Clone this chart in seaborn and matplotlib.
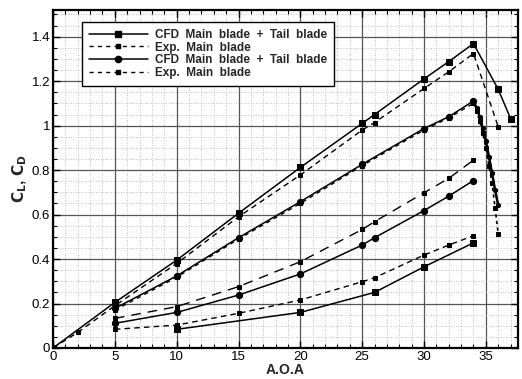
import matplotlib
matplotlib.use("Agg")
import matplotlib.pyplot as plt
from matplotlib.lines import Line2D
from matplotlib.ticker import MultipleLocator
import seaborn as sns
import pandas as pd

# Lift, configuration 1 (CFD, squares)
cl1_cfd_aoa = [0, 5, 10, 15, 20, 25, 26, 30, 32, 34, 36, 37]
cl1_cfd = [0.0, 0.205, 0.395, 0.606, 0.812, 1.01, 1.05, 1.21, 1.288, 1.369, 1.163, 1.032]
cl1_exp_aoa = [0, 2, 5, 10, 15, 20, 25, 26, 30, 32, 34, 36]
cl1_exp = [0.0, 0.07, 0.19, 0.38, 0.59, 0.778, 0.98, 1.014, 1.167, 1.242, 1.324, 0.995]

# Lift, configuration 2 (CFD, circles); post-stall points are finely spaced
cl2_cfd_aoa = [5, 10, 15, 20, 25, 30, 32, 34, 34.25, 34.5, 34.75, 35, 35.25, 35.5, 35.75, 36]
cl2_cfd = [0.178, 0.324, 0.496, 0.658, 0.826, 0.987, 1.04, 1.111, 1.08, 1.04, 0.99, 0.93,
           0.86, 0.785, 0.71, 0.641]
cl2_exp_aoa = [5, 10, 15, 20, 25, 30, 32, 34, 34.25, 34.5, 34.75, 35, 35.25, 35.5, 35.75, 36]
cl2_exp = [0.17, 0.318, 0.49, 0.65, 0.82, 0.98, 1.035, 1.10, 1.065, 1.02, 0.965, 0.90,
           0.82, 0.74, 0.63, 0.511]
stall_index = 7  # index of the 34 deg point where the fine sweep starts

# Drag, configuration 2 (upper drag curves)
cd2_cfd_aoa = [5, 10, 15, 20, 25, 26, 30, 32, 34]
cd2_cfd = [0.111, 0.160, 0.238, 0.333, 0.463, 0.496, 0.618, 0.683, 0.753]
cd2_exp_aoa = [5, 10, 15, 20, 25, 26, 30, 32, 34]
cd2_exp = [0.133, 0.186, 0.276, 0.388, 0.533, 0.568, 0.698, 0.763, 0.845]

# Drag, configuration 1 (lower drag curves)
cd1_cfd_aoa = [10, 20, 26, 30, 34]
cd1_cfd = [0.084, 0.160, 0.250, 0.365, 0.473]
cd1_exp_aoa = [5, 10, 15, 20, 25, 26, 30, 32, 34]
cd1_exp = [0.084, 0.103, 0.156, 0.216, 0.298, 0.316, 0.418, 0.463, 0.505]

legend_labels = ["CFD  Main  blade  +  Tail  blade", "Exp.  Main  blade",
                 "CFD  Main  blade  +  Tail  blade", "Exp.  Main  blade"]

sns.set_theme(style="ticks")
plt.rcParams["font.family"] = ["Liberation Sans", "DejaVu Sans"]

fig = plt.figure(figsize=(5.22, 3.79), dpi=100)
ax = fig.add_axes([53 / 522, 1 - 348 / 379, 465 / 522, 338 / 379])

k = "black"


def draw(xs, ys, **style):
    df = pd.DataFrame({"aoa": xs, "c": ys})
    sns.lineplot(data=df, x="aoa", y="c", ax=ax, sort=False, color=k,
                 markeredgecolor=k, **style)


cfd_sq = dict(marker="s", markersize=4.5, linestyle="-", linewidth=1.1)
cfd_ci = dict(marker="o", markersize=4.5, linestyle="-", linewidth=1.1)
exp_short = dict(marker="s", markersize=3, linestyle=(0, (4, 3)), linewidth=1.0)
exp_long = dict(marker="s", markersize=3, linestyle=(0, (7, 5)), linewidth=1.0)

draw(cl1_cfd_aoa, cl1_cfd, **cfd_sq)
draw(cl1_exp_aoa, cl1_exp, **exp_short)

s = stall_index
draw(cl2_cfd_aoa[:s + 1], cl2_cfd[:s + 1], **cfd_ci)
draw(cl2_cfd_aoa[s:], cl2_cfd[s:], marker="o", markersize=3, linestyle="-", linewidth=1.8)
draw(cl2_exp_aoa[:s + 1], cl2_exp[:s + 1], **dict(exp_short, linestyle=(0, (3, 3))))
draw(cl2_exp_aoa[s:], cl2_exp[s:], marker="s", markersize=2.2, linestyle=(0, (2, 2)), linewidth=1.2)

draw(cd2_cfd_aoa, cd2_cfd, **cfd_ci)
draw(cd2_exp_aoa, cd2_exp, **exp_long)
draw(cd1_cfd_aoa, cd1_cfd, **cfd_sq)
draw(cd1_exp_aoa, cd1_exp, **exp_short)

ax.set_xlim(0, 37.6)
ax.set_ylim(0, 1.52)
ax.xaxis.set_major_locator(MultipleLocator(5))
ax.xaxis.set_minor_locator(MultipleLocator(1))
ax.set_yticks([0, 0.2, 0.4, 0.6, 0.8, 1.0, 1.2, 1.4])
ax.set_yticklabels(["0", "0.2", "0.4", "0.6", "0.8", "1", "1.2", "1.4"])
ax.yaxis.set_minor_locator(MultipleLocator(0.05))

ax.grid(which="major", color="#555555", linewidth=0.9, linestyle="-")
ax.grid(which="minor", color="#aaaaaa", linewidth=0.6, linestyle=(0, (1, 2)))
ax.set_axisbelow(True)
ax.tick_params(which="both", direction="in", top=True, right=True, colors=k,
               labelsize=9.5, pad=2)
ax.tick_params(which="major", length=5, width=1.0)
ax.tick_params(which="minor", length=3, width=0.8)
for sp in ax.spines.values():
    sp.set_color(k)
    sp.set_linewidth(1.6)

ax.set_xlabel("A.O.A", fontsize=10, fontweight="bold", labelpad=0)
ax.set_ylabel(r"$\mathbf{C_L}$, $\mathbf{C_D}$", fontsize=11, fontweight="bold", labelpad=2)

handles = [
    Line2D([], [], color=k, linewidth=1.1, marker="s", markersize=4.5),
    Line2D([], [], color=k, linewidth=1.0, linestyle=(0, (3, 3)), marker="s", markersize=3),
    Line2D([], [], color=k, linewidth=1.1, marker="o", markersize=4.5),
    Line2D([], [], color=k, linewidth=1.0, linestyle=(0, (3, 3)), marker="s", markersize=3),
]
leg = ax.legend(handles, legend_labels, loc="upper left", bbox_to_anchor=(0.062, 0.965),
                frameon=True, fancybox=False, framealpha=1, edgecolor=k,
                prop={"weight": "bold", "size": 8.5}, handlelength=5.0,
                labelspacing=0.05, borderpad=0.6, handletextpad=0.6, borderaxespad=0)
leg.get_frame().set_linewidth(1.0)

fig.savefig("out.png", dpi=100)
